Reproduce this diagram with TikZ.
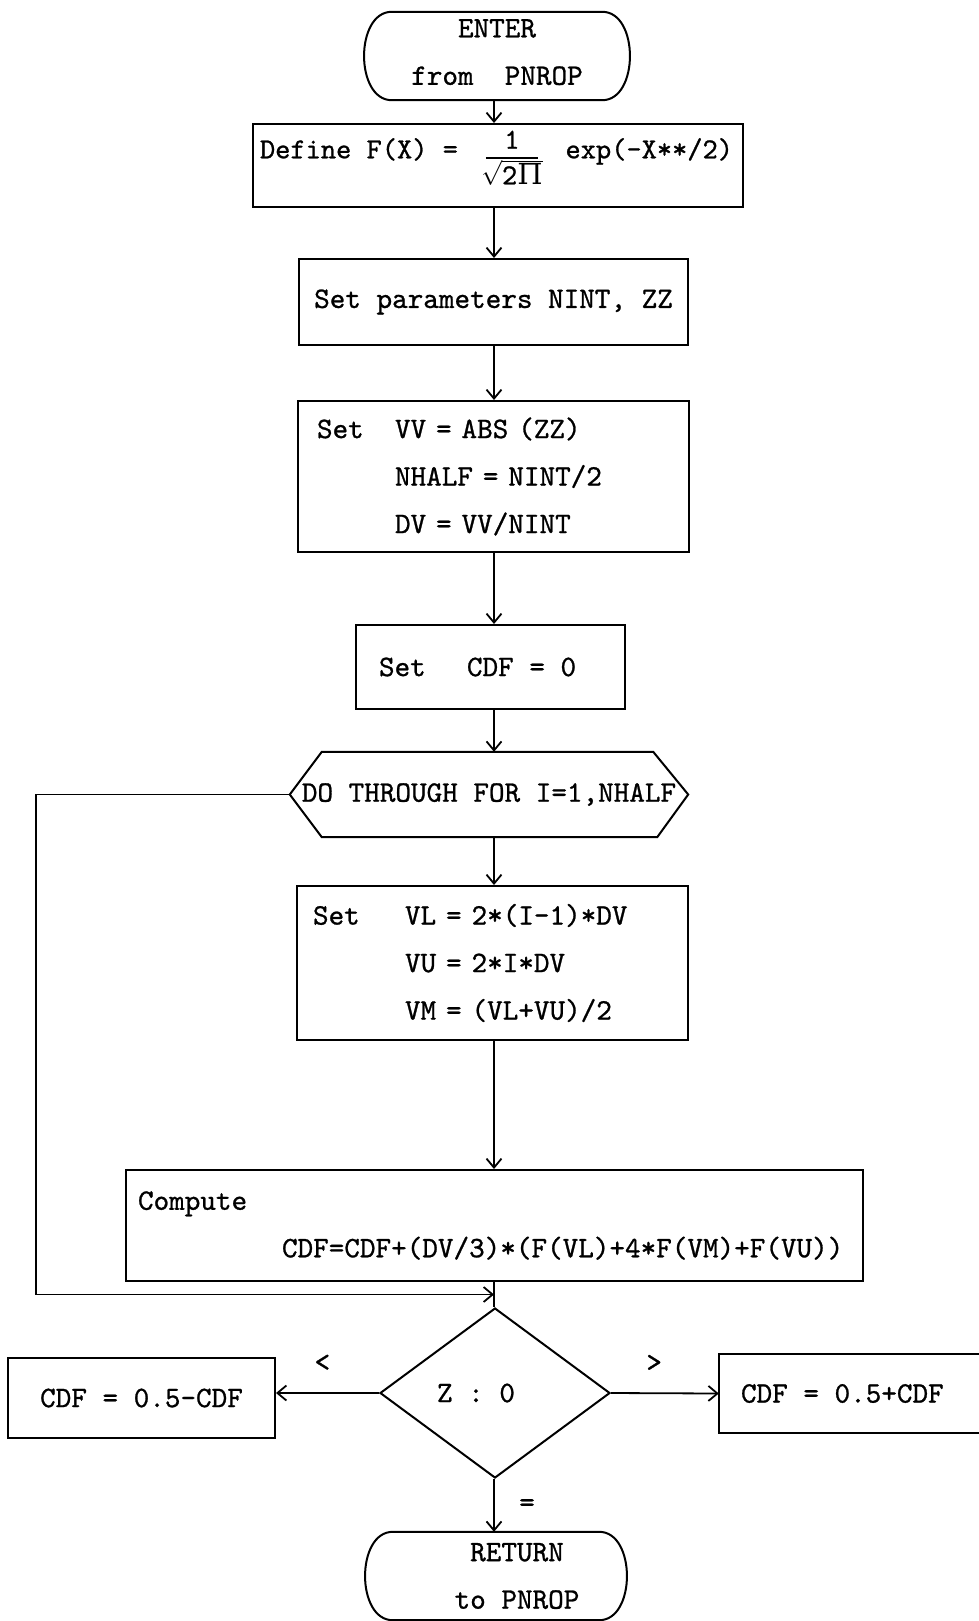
\documentclass[tikz,border=0pt]{standalone}
\usepackage{fontspec}
\newfontfamily\twfont{lmmono10-regular}[Extension=.otf, FakeBold=0.9]
\newfontfamily\grfont{DejaVu Serif}
\usetikzlibrary{arrows.meta,shapes.geometric,calc}
\tikzset{
  tw/.style={font=\twfont\fontsize{29.7pt}{47.5pt}\selectfont, inner ysep=0pt},
  boxx/.style={tw, draw, line width=2pt, rectangle},
  edgeline/.style={line width=2pt, line join=miter},
  conn/.style={line width=1.8pt},
  arr/.style={line width=1.8pt, -{Straight Barb[length=9pt,width=15pt]}},
}
\newcommand\termoutline[1]{%
  \draw[edgeline] ([xshift=28pt]#1.north west) -- ([xshift=-28pt]#1.north east)
    .. controls ([xshift=9pt]#1.north east) and ([xshift=9pt]#1.south east) .. ([xshift=-28pt]#1.south east)
    -- ([xshift=28pt]#1.south west)
    .. controls ([xshift=-9pt]#1.south west) and ([xshift=-9pt]#1.north west) .. cycle;}
\newcommand\normfrac{\raisebox{-26pt}{\vbox{\hbox to 52pt{\hss 1\hss}\kern 8pt\hrule height 1.8pt\kern 1pt
  \hbox to 52pt{\hss$\sqrt{\hbox{2{\grfont Π}}}$\hss}}}}
\begin{document}
\begin{tikzpicture}[x=1pt,y=-1pt]
\fill[white] (0,0) rectangle (979,1621);
\useasboundingbox (0,0) rectangle (979,1621);
\coordinate (col) at (494,0);
\coordinate (loopx) at (36,0);

% terminals and boxes
\node[tw, minimum width=266pt, minimum height=88pt, inner xsep=0pt, align=center] (enter) at (497,56)
  {ENTER\\from\ \ PNROP\rule[-8pt]{0pt}{8pt}};
\termoutline{enter}

\node[boxx, font=\twfont\fontsize{29pt}{40pt}\selectfont, minimum width=490pt, minimum height=83pt, inner xsep=7pt] (define) at (498,165.5)
  {\makebox[476pt][l]{Define F(X) =\hspace{28pt}\normfrac\hfill exp(-X**/2)\hspace{3pt}\rule[-42pt]{0pt}{1pt}}};

\node[boxx, minimum width=389pt, minimum height=86pt, inner xsep=0pt] (params) at (493.5,302) {Set parameters NINT, ZZ};

\node[boxx, minimum width=391pt, minimum height=151pt, inner xsep=19pt, text width=353pt, align=left] (setvv) at (493.5,476.5)
  {\makebox[78pt][l]{Set}VV = ABS (ZZ)\\\hspace*{78pt}NHALF = NINT/2\\\hspace*{78pt}DV = VV/NINT};

\node[boxx, minimum width=269pt, minimum height=84pt, inner xsep=23pt] (cdf0) at (490.5,667) {\makebox[223pt][l]{\makebox[88pt][l]{Set}CDF = 0}};

\node[tw, minimum width=398pt, minimum height=85pt, inner xsep=0pt] (hex) at (489,794.5) {DO THROUGH FOR I=1,NHALF};
\draw[edgeline] (hex.west) -- ([xshift=32pt]hex.north west) -- ([xshift=-35pt]hex.north east) -- (hex.east)
  -- ([xshift=-31pt]hex.south east) -- ([xshift=32pt]hex.south west) -- cycle;

\node[boxx, minimum width=391pt, minimum height=154pt, inner xsep=16pt, text width=359pt, align=left] (setvl) at (492.5,963)
  {\makebox[92pt][l]{Set}VL = 2*(I-1)*DV\\\hspace*{92pt}VU = 2*I*DV\\\hspace*{92pt}VM = (VL+VU)/2};

\node[boxx, minimum width=737pt, minimum height=111pt, inner xsep=12pt, text width=713pt, align=left] (compute) at (494.5,1225.5)
  {Compute\\\hspace*{144pt}CDF=CDF+(DV/3)*(F(VL)+4*F(VM)+F(VU))};

\node[tw, diamond, draw, line width=2pt, minimum width=230pt, minimum height=170pt, inner sep=0pt] (dia) at (495,1393) {\makebox[116pt][l]{Z : 0}};

\node[boxx, minimum width=267pt, minimum height=80pt, inner xsep=0pt] (lt) at (141.5,1398) {CDF = 0.5-CDF};

\node[tw, minimum width=260pt, minimum height=79pt, inner xsep=22pt] (rt) at (849,1393.5) {\makebox[216pt][l]{CDF = 0.5+CDF}};
\draw[edgeline] (rt.north east) -- (rt.north west) -- (rt.south west) -- (rt.south east);

\node[tw, minimum width=262pt, minimum height=88pt, inner xsep=0pt, align=center] (ret) at (496,1576) {\hspace*{42pt}RETURN\\\hspace*{42pt}to PNROP};
\termoutline{ret}

% connectors
\draw[arr] (enter.south -| col) -- (define.north -| col);
\draw[arr] (define.south -| col) -- (params.north -| col);
\draw[arr] (params.south -| col) -- (setvv.north -| col);
\draw[arr] (setvv.south -| col) -- (cdf0.north -| col);
\draw[arr] (cdf0.south -| col) -- (hex.north -| col);
\draw[arr] (hex.south -| col) -- (setvl.north -| col);
\draw[arr] (setvl.south -| col) -- (compute.north -| col);
\draw[conn] (compute.south -| col) -- (dia.north -| col);
\coordinate (join) at ($(compute.south -| col)!0.5!(dia.north -| col)$);
\draw[arr] (hex.west) -- (hex.west -| loopx) -- (loopx |- join) -- (join);

\draw[arr] (dia.west) -- (dia.west -| lt.east) node[tw, pos=0.55, yshift=30pt] (lless) {<};
\draw[arr] (dia.east) -- (rt.west) node[tw, pos=0.4, yshift=30pt] (lgreater) {>};
\draw[arr] (dia.south -| col) -- (ret.north -| col) node[tw, midway, xshift=33pt] (lequal) {=};
\end{tikzpicture}
\end{document}
